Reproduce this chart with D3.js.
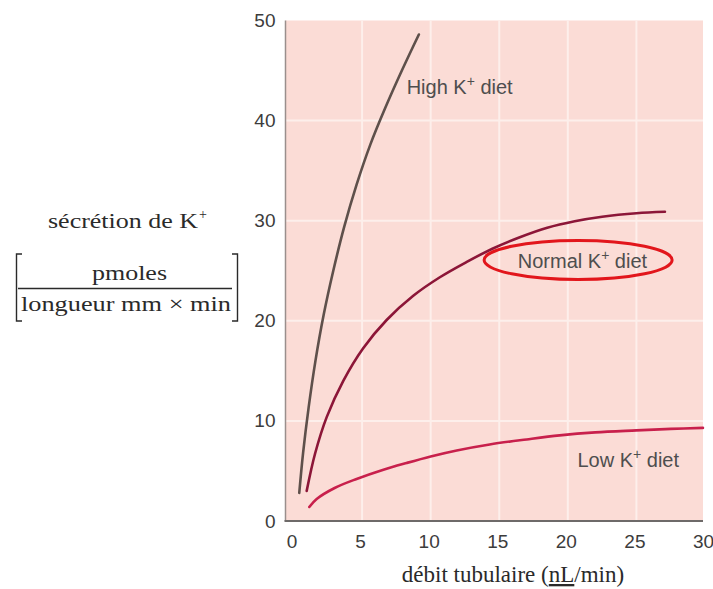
<!DOCTYPE html>
<html>
<head>
<meta charset="utf-8">
<script src="https://cdn.jsdelivr.net/npm/d3@7"></script>
<style>
  html, body { margin: 0; padding: 0; background: #fff; }
  svg { display: block; }
</style>
</head>
<body>
<script>
(()=>{
    const width = 713;
    const height = 589;

    // values: [flow nL/min, K+ secretion]
    const highK = [[0.42,2.8],[0.7,6.8],[1.1,11.3],[1.6,16.0],[2.2,20.6],[2.9,25.0],[3.7,29.4],
                   [4.6,33.6],[5.6,37.6],[6.7,41.3],[7.9,45.0],[9.14,48.6]];
    const normalK = [[0.96,3.0],[1.57,6.72],[2.42,10.38],[3.63,14.0],[5.08,17.26],[6.79,20.08],[8.73,22.5],
                     [10.67,24.35],[12.6,25.86],[14.5,27.2],[16.5,28.35],[18.5,29.3],[20.5,29.95],
                     [22.5,30.4],[25,30.75],[27.08,30.9]];
    const lowK = [[1.15,1.4],[1.69,2.2],[3,3.3],[4.6,4.2],[6.5,5.1],[8.25,5.8],[10,6.45],[11.9,7.05],
                  [14.3,7.65],[17,8.15],[19.4,8.55],[22,8.85],[25,9.05],[27.5,9.2],[29.85,9.3]];

    const xTicks = [0, 5, 10, 15, 20, 25, 30];
    const yTicks = [0, 10, 20, 30, 40, 50];

    const x = d3.scaleLinear().domain([0, 30]).range([293.5, 705]);
    const y = d3.scaleLinear().domain([0, 50]).range([521, 20.5]);

    const svg = d3.create("svg")
        .attr("width", width)
        .attr("height", height)
        .attr("viewBox", [0, 0, width, height]);

    // pink plot area
    const left = x(0) - 8, right = x(30) - 2;
    svg.append("rect")
        .attr("x", left).attr("y", y(50))
        .attr("width", right - left).attr("height", y(0) - y(50))
        .attr("fill", "#fbdcd6");

    // faint white grid
    svg.append("g")
        .attr("stroke", "#fdefeb")
        .attr("stroke-width", 2)
        .selectAll("line.v")
        .data(xTicks.slice(1, -1))
        .join("line")
        .attr("x1", d => x(d)).attr("x2", d => x(d))
        .attr("y1", y(50)).attr("y2", y(0));

    svg.append("g")
        .attr("stroke", "#fdefeb")
        .attr("stroke-width", 2)
        .selectAll("line.h")
        .data(yTicks.slice(1, -1))
        .join("line")
        .attr("x1", left).attr("x2", right)
        .attr("y1", d => y(d)).attr("y2", d => y(d));

    // axis lines
    svg.append("line")
        .attr("x1", left).attr("x2", left)
        .attr("y1", y(50)).attr("y2", y(0))
        .attr("stroke", "#9a8f8d").attr("stroke-width", 1.5);
    svg.append("line")
        .attr("x1", left - 1).attr("x2", right)
        .attr("y1", y(0)).attr("y2", y(0))
        .attr("stroke", "#6e6a69").attr("stroke-width", 2);

    // tick labels via axes
    const xAxis = svg.append("g")
        .attr("transform", `translate(0,${y(0)})`)
        .call(d3.axisBottom(x).tickValues(xTicks).tickSize(0).tickPadding(14));
    xAxis.select(".domain").remove();
    xAxis.selectAll("text")
        .attr("dx", -2)
        .attr("font-family", "Liberation Sans, Arial, sans-serif")
        .attr("font-size", 19)
        .attr("fill", "#3c3c3c");

    const yAxis = svg.append("g")
        .attr("transform", `translate(${left - 10},0)`)
        .call(d3.axisLeft(y).tickValues(yTicks).tickSize(0).tickPadding(0));
    yAxis.select(".domain").remove();
    yAxis.selectAll("text")
        .attr("font-family", "Liberation Sans, Arial, sans-serif")
        .attr("font-size", 19)
        .attr("fill", "#3c3c3c");

    // curves
    const line = d3.line()
        .x(d => x(d[0]))
        .y(d => y(d[1]))
        .curve(d3.curveCatmullRom.alpha(0.5));

    const curves = [
        {data: highK, color: "#5e504b"},
        {data: normalK, color: "#8c1638"},
        {data: lowK, color: "#c8204c"}
    ];

    svg.append("g")
        .attr("fill", "none")
        .attr("stroke-width", 2.6)
        .attr("stroke-linecap", "round")
        .selectAll("path")
        .data(curves)
        .join("path")
        .attr("stroke", d => d.color)
        .attr("d", d => line(d.data));

    // red ellipse around normal label
    svg.append("ellipse")
        .attr("cx", x(20.75)).attr("cy", y(26.07))
        .attr("rx", 94).attr("ry", 19.5)
        .attr("fill", "none")
        .attr("stroke", "#e2161c")
        .attr("stroke-width", 3);

    // curve labels
    const labels = [
        {name: "High", at: [8.25, 42.7]},
        {name: "Normal", at: [16.35, 25.3]},
        {name: "Low", at: [20.7, 5.4]}
    ];
    const lab = svg.append("g")
        .attr("font-family", "Liberation Sans, Arial, sans-serif")
        .attr("font-size", 20)
        .attr("fill", "#4e4e4e")
        .selectAll("text")
        .data(labels)
        .join("text")
        .attr("x", d => x(d.at[0]))
        .attr("y", d => y(d.at[1]));
    lab.append("tspan").text(d => d.name + " K");
    lab.append("tspan").attr("font-size", 14).attr("dy", -8).text("+");
    lab.append("tspan").attr("dy", 8).text(" diet");

    // y axis title (serif, with bracketed fraction)
    const serif = "Liberation Serif, Times New Roman, serif";
    const yt = svg.append("g")
        .attr("font-family", serif)
        .attr("fill", "#2a2a2a");

    yt.append("text")
        .attr("x", 48).attr("y", 227.5)
        .attr("font-size", 21)
        .attr("textLength", 150)
        .attr("lengthAdjust", "spacingAndGlyphs")
        .text("sécrétion de K");
    yt.append("text")
        .attr("x", 199).attr("y", 219)
        .attr("font-size", 14)
        .text("+");

    yt.append("text")
        .attr("x", 129.5).attr("y", 280)
        .attr("text-anchor", "middle")
        .attr("font-size", 21)
        .attr("textLength", 75)
        .attr("lengthAdjust", "spacingAndGlyphs")
        .text("pmoles");

    yt.append("text")
        .attr("x", 126).attr("y", 311)
        .attr("text-anchor", "middle")
        .attr("font-size", 21)
        .attr("textLength", 210)
        .attr("lengthAdjust", "spacingAndGlyphs")
        .text("longueur mm × min");

    yt.append("line")
        .attr("x1", 18).attr("x2", 232)
        .attr("y1", 288.5).attr("y2", 288.5)
        .attr("stroke", "#2a2a2a").attr("stroke-width", 1.4);

    yt.append("path")
        .attr("d", "M22,254 H16.5 V321 H22 M232,254 H237.5 V321 H232")
        .attr("fill", "none")
        .attr("stroke", "#2a2a2a")
        .attr("stroke-width", 1.4);

    // x axis title
    const xt = svg.append("text")
        .attr("x", 513).attr("y", 582)
        .attr("font-family", serif)
        .attr("font-size", 23)
        .attr("fill", "#2a2a2a")
        .attr("text-anchor", "middle");
    xt.append("tspan").text("débit tubulaire (");
    xt.append("tspan").attr("text-decoration", "underline").text("nL");
    xt.append("tspan").text("/min)");

    d3.select("body").append(() => svg.node());
})()
</script>
</body>
</html>
